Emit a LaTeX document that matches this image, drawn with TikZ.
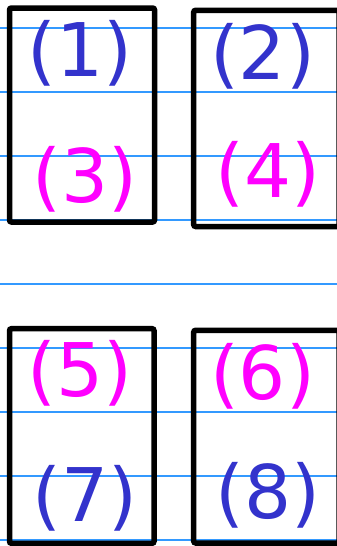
\documentclass[tikz,border=0pt]{standalone}
\usepackage{fontspec}
\setmainfont{DejaVu Sans}
\definecolor{guide}{HTML}{3399FF}
\definecolor{numblue}{HTML}{3333CC}
\definecolor{nummag}{HTML}{FF00FF}
\begin{document}
\begin{tikzpicture}[x=1pt,y=-1pt,
  guideline/.style={guide,line width=1.5pt},
  cell/.style={draw=black,line width=5.5pt,rounded corners=2pt,inner sep=0pt,fill=none},
  lab/.style={anchor=base,inner sep=0pt,font=\fontsize{74}{80}\selectfont},
  labb/.style={lab,text=numblue},
  labm/.style={lab,text=nummag}]
\useasboundingbox (0,0) rectangle (337,546);
\foreach \k in {0,...,8}{
  \coordinate (gl\k) at (0,28+64*\k);
  \coordinate (gr\k) at (337,28+64*\k);
  \draw[guideline] (gl\k) -- (gr\k);
}
\node[cell,minimum width=145pt,minimum height=214pt] (b1) at (82,115) {};
\node[cell,minimum width=145.3pt,minimum height=216.2pt] (b2) at (266.35,118.4) {};
\node[cell,minimum width=144.5pt,minimum height=214.6pt] (b5) at (81.75,436) {};
\node[cell,minimum width=145.3pt,minimum height=212.7pt] (b6) at (266.35,436.65) {};
\node[labb] (t1) at (80,76) {(1)};
\node[labm] (t3) at (85,202) {(3)};
\node[labb] (t2) at (262.5,79) {(2)};
\node[labm] (t4) at (268,197) {(4)};
\node[labm] (t5) at (80,396) {(5)};
\node[labb] (t7) at (85,521) {(7)};
\node[labm] (t6) at (262.5,399) {(6)};
\node[labb] (t8) at (268,518) {(8)};
\end{tikzpicture}
\end{document}
